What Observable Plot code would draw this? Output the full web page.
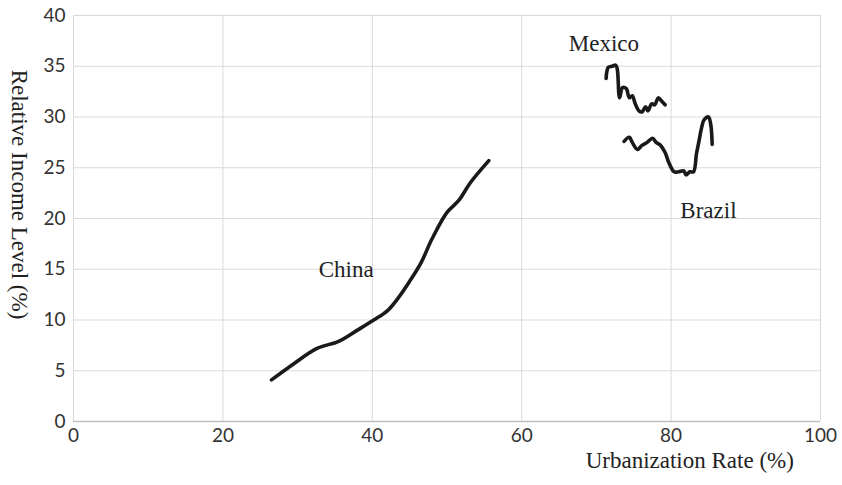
<!DOCTYPE html>
<html>
<head>
<meta charset="utf-8">
<script src="https://cdn.jsdelivr.net/npm/d3@7"></script>
<script src="https://cdn.jsdelivr.net/npm/@observablehq/plot@0.6"></script>
<style>
  html, body { margin: 0; padding: 0; background: #fff; }
  #chart svg { display: block; }
</style>
</head>
<body>
<div id="chart"></div>
<script>
const chinaX = [26.5, 29.5, 32.6, 35.5, 38.0, 40.2, 42.0, 43.5, 44.9, 46.5, 48.0, 50.0, 51.6, 53.1, 55.6];
const chinaY = [4.1, 5.7, 7.2, 7.9, 9.0, 10.0, 10.9, 12.2, 13.7, 15.6, 18.0, 20.6, 21.8, 23.5, 25.7];

const mexicoX = [71.3, 71.6, 72.1, 72.6, 72.8, 73.1, 73.5, 74.0, 74.4, 74.8, 75.2, 75.7, 76.1, 76.6, 76.9, 77.4, 77.8, 78.3, 78.7, 79.2];
const mexicoY = [33.8, 34.9, 35.0, 35.1, 34.7, 31.9, 32.9, 32.8, 31.9, 32.1, 31.3, 30.6, 30.5, 31.0, 30.6, 31.3, 31.2, 31.9, 31.6, 31.2];

const brazilX = [73.7, 74.4, 74.8, 75.5, 76.1, 76.8, 77.5, 78.0, 78.6, 79.2, 79.7, 80.4, 81.0, 81.7, 82.0, 82.5, 83.0, 83.4, 83.7, 84.1, 84.4, 85.0, 85.3, 85.5];
const brazilY = [27.6, 28.0, 27.5, 26.8, 27.2, 27.5, 27.9, 27.5, 27.2, 26.5, 25.5, 24.6, 24.6, 24.7, 24.3, 24.6, 24.6, 26.4, 27.5, 29.0, 29.7, 30.0, 29.3, 27.3];

const countryNames = ["China", "Mexico", "Brazil"];
const labelX = [36.5, 71.0, 85.0];
const labelY = [15.0, 37.2, 20.8];

const xTicks = [0, 20, 40, 60, 80, 100];
const yTicks = [0, 5, 10, 15, 20, 25, 30, 35, 40];
const xTitle = "Urbanization Rate (%)";
const yTitle = "Relative Income Level (%)";

const toRows = (name, xs, ys) => xs.map((x, i) => ({country: name, x, y: ys[i]}));
const rows = [
  ...toRows("China", chinaX, chinaY),
  ...toRows("Mexico", mexicoX, mexicoY),
  ...toRows("Brazil", brazilX, brazilY)
];
const labels = countryNames.map((n, i) => ({name: n, x: labelX[i], y: labelY[i]}));

const tickFont = "Lato, 'Open Sans', sans-serif";
const serif = "'Liberation Serif', 'DejaVu Serif', serif";

const chart = Plot.plot({
  width: 842,
  height: 485,
  marginLeft: 73,
  marginRight: 22,
  marginTop: 15,
  marginBottom: 64,
  style: {fontFamily: tickFont, fontSize: "19px", color: "#333", background: "#fff"},
  x: {domain: [0, 100], ticks: xTicks},
  y: {domain: [0, 40], ticks: yTicks},
  marks: [
    Plot.gridX(xTicks, {stroke: "#d9d9d9", strokeOpacity: 1, strokeWidth: 1}),
    Plot.gridY(yTicks, {stroke: "#d9d9d9", strokeOpacity: 1, strokeWidth: 1}),
    Plot.ruleY([0], {stroke: "#bfbfbf", strokeWidth: 1.5}),
    Plot.axisX({ticks: xTicks, tickSize: 0, tickPadding: 7, label: null, fontSize: 19, fill: "#333"}),
    Plot.axisY({ticks: yTicks, tickSize: 0, tickPadding: 8, label: null, fontSize: 19, fill: "#333"}),
    Plot.line(rows, {x: "x", y: "y", z: "country", stroke: "#1a1a1a", strokeWidth: 3.6, curve: "catmull-rom", strokeLinejoin: "round", strokeLinecap: "round"}),
    Plot.text(labels, {x: "x", y: "y", text: "name", fontFamily: serif, fontSize: 23, fill: "#222", textAnchor: "middle"}),
    Plot.text([xTitle], {x: 82.5, frameAnchor: "bottom", dy: 46, fontFamily: serif, fontSize: 23, fill: "#222", textAnchor: "middle"}),
    Plot.text([yTitle], {frameAnchor: "left", dx: -54, dy: -24, rotate: 90, fontFamily: serif, fontSize: 23, fill: "#222", textAnchor: "middle"})
  ]
});
document.getElementById("chart").appendChild(chart);
</script>
</body>
</html>
